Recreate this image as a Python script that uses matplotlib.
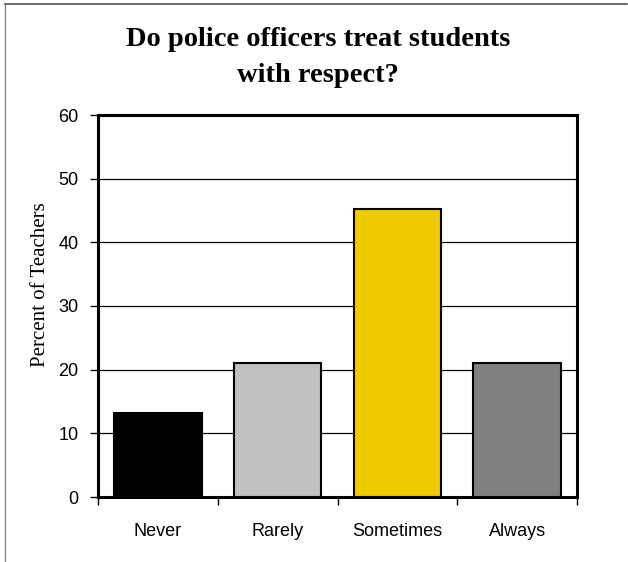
import matplotlib
matplotlib.use("Agg")
import matplotlib.pyplot as plt
from matplotlib.lines import Line2D

categories = ["Never", "Rarely", "Sometimes", "Always"]
percents = [13.2, 21.1, 45.2, 21.1]
bar_colors = ["#000000", "#C0C0C0", "#F0CA00", "#808080"]
yticks = [0, 10, 20, 30, 40, 50, 60]

W, H = 628, 562
fig = plt.figure(figsize=(W / 100, H / 100), dpi=100)
ax = fig.add_axes([98 / W, 1 - 497 / H, 479 / W, 382 / H])

x = range(len(categories))
ax.bar(x, percents, width=0.73, color=bar_colors, edgecolor="black",
       linewidth=1.5, zorder=3)

ax.set_xlim(-0.5, len(categories) - 0.5)
ax.set_ylim(0, 60)
ax.set_yticks(yticks)
ax.yaxis.grid(True, color="black", linewidth=0.9, zorder=0)

# category labels between the boundary ticks
ax.set_xticks([i - 0.5 for i in range(len(categories) + 1)])
ax.set_xticklabels([])
ax.set_xticks(list(x), minor=True)
ax.set_xticklabels(categories, minor=True, fontsize=13, family="Liberation Sans")
ax.tick_params(axis="x", which="minor", length=0, pad=19)
ax.tick_params(axis="x", which="major", direction="out", length=6, width=1)
ax.tick_params(axis="y", direction="out", length=6, width=1, pad=8,
               labelsize=13)
for lab in ax.get_yticklabels():
    lab.set_family("Liberation Sans")

for sp in ax.spines.values():
    sp.set_linewidth(2.2)
    sp.set_color("black")

ax.set_ylabel("Percent of Teachers", family="Liberation Serif", fontsize=15)
ax.yaxis.set_label_coords(-0.100, 0.555)

fig.text(318 / W, 1 - 39 / H, "Do police officers treat students",
         ha="center", va="center", family="Liberation Serif",
         fontweight="bold", fontsize=20.5)
fig.text(318 / W, 1 - 76 / H, "with respect?",
         ha="center", va="center", family="Liberation Serif",
         fontweight="bold", fontsize=20.5)

# thin grey frame round the picture
fig.add_artist(Line2D([5 / W, 5 / W], [0, 1 - 4 / H], color="#888888", lw=1))
fig.add_artist(Line2D([5 / W, 627 / W], [1 - 4 / H, 1 - 4 / H], color="#555555", lw=1.2))

fig.savefig("out.png", dpi=100)
